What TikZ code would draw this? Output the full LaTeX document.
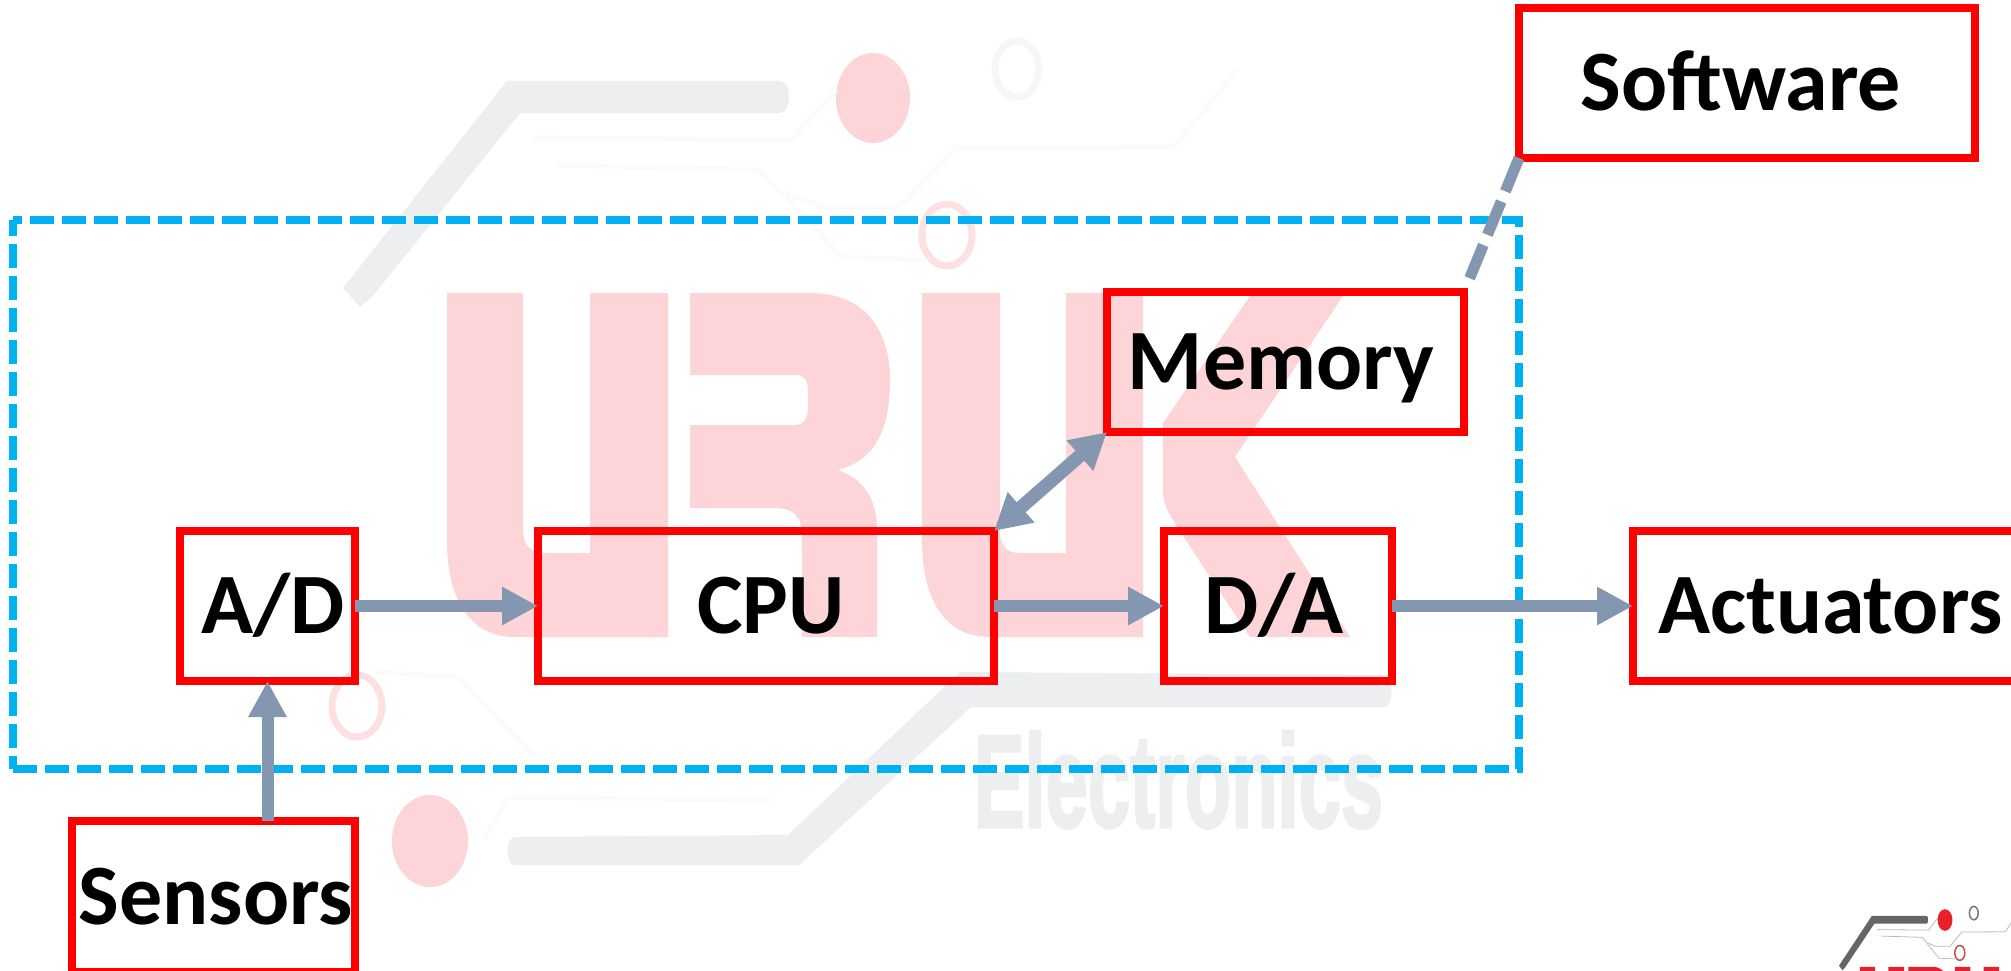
\documentclass[tikz,border=0pt]{standalone}
\usepackage{fontspec}
\usepackage{graphicx}
\usetikzlibrary{arrows.meta}
\setmainfont{Carlito}
\newfontfamily\wmfont[FakeBold=2.5]{Liberation Sans}
\definecolor{boxred}{HTML}{FF0000}
\definecolor{arrowblue}{HTML}{8497B0}
\definecolor{frameblue}{HTML}{00B0F0}
\definecolor{wmpink}{HTML}{FDD5D8}
\definecolor{wmgray}{HTML}{EDEEF0}
\definecolor{wmring}{HTML}{FDE0E2}
\definecolor{wmringgray}{HTML}{F6F6F7}
\definecolor{wmtrace}{HTML}{FBFBFB}
\definecolor{lgred}{HTML}{E8202A}
\definecolor{lggray}{HTML}{666666}
\definecolor{lgring}{HTML}{777777}
\definecolor{lgredring}{HTML}{C84A52}
\definecolor{lgtrace}{HTML}{B5BDBD}
\tikzset{
  blockbox/.style={draw=boxred,line width=8pt,inner sep=0pt,outer sep=0pt,
    font=\fontsize{86pt}{92pt}\selectfont\bfseries,text=black,
    text height=55pt,text depth=0pt},
  flow/.style={draw=arrowblue,line width=12pt,
    -{Triangle[length=36pt,width=36pt,fill=arrowblue]}},
  flowboth/.style={draw=arrowblue,line width=13.5pt,
    {Triangle[length=36pt,width=38pt,fill=arrowblue]}-{Triangle[length=36pt,width=38pt,fill=arrowblue]}},
  softlink/.style={draw=arrowblue,line width=11pt,
    dash pattern=on 36pt off 11pt on 36pt off 11pt on 36pt off 40pt},
  framedash/.style={draw=frameblue,line width=8pt,dash pattern=on 24pt off 8pt}
}
% the watermark mark: letter, bar, big dot, grey ring, red ring, trace colours; ring and trace widths
\newcommand{\urukmark}[8]{%
  \fill[#1] (447,293)--(523,293)--(523,530) .. controls (523,545) and (530,553) .. (545,553)--(590,553)--(590,293)--(668,293)--(668,637)--(515,637) .. controls (470,637) and (447,600) .. (447,540)--cycle;
  \fill[#1] (690,293)--(810,293) .. controls (865,293) and (890,330) .. (890,380) .. controls (890,430) and (875,460) .. (838,470) .. controls (865,480) and (877,500) .. (877,530)--(877,637)--(802,637)--(802,535) .. controls (802,518) and (795,508) .. (775,508)--(690,508)--(690,425)--(795,425) .. controls (805,425) and (808,418) .. (808,405)--(808,393) .. controls (808,380) and (805,375) .. (795,375)--(690,375)--cycle;
  \fill[#1] (922,293)--(1000,293)--(1000,530) .. controls (1000,545) and (1005,553) .. (1020,553)--(1066,553)--(1066,293)--(1143,293)--(1143,637)--(990,637) .. controls (945,637) and (922,600) .. (922,540)--cycle;
  \fill[#1] (1252,293)--(1345,293)--(1235,457)--(1350,637)--(1250,637)--(1177,527) .. controls (1168,512) and (1163,505) .. (1163,490)--(1163,423)--cycle;
  \fill[#2] (507,81)--(780,81) .. controls (792,81) and (792,113) .. (780,113)--(520,113)--(372,297)--(360,307)--(343,288)--cycle;
  \fill[#3] (873,98) ellipse [x radius=37pt,y radius=45pt];
  \draw[#4,line width=#7] (1017,69) ellipse [x radius=22pt,y radius=28pt];
  \draw[#5,line width=#7] (947,235) ellipse [x radius=25pt,y radius=31pt];
  \draw[#6,line width=#8] (533,138)--(791,140)--(836,90);
  \draw[#6,line width=#8] (555,165)--(759,170)--(842,257)--(925,260);
  \draw[#6,line width=#8] (785,193)--(823,207)--(899,207)--(957,148)--(1174,147)--(1237,70);
}
\begin{document}
\begin{tikzpicture}[x=1pt,y=-1pt]
\path[use as bounding box,clip] (0,0) rectangle (2011,971);
\fill[white] (0,0) rectangle (2011,971);
% large watermark
\urukmark{wmpink}{wmgray}{wmpink}{wmringgray}{wmring}{wmtrace}{7pt}{5pt}
\fill[wmgray] (960,672)--(1384,675) .. controls (1394,675) and (1394,707) .. (1384,707)--(971,707)--(799,865)--(515,865) .. controls (505,865) and (505,837) .. (515,837)--(788,835)--cycle;
\fill[wmpink] (430,841) ellipse [x radius=38pt,y radius=46pt];
\draw[wmring,line width=7pt] (357,706) ellipse [x radius=25pt,y radius=31pt];
\draw[wmtrace,line width=5pt] (373,672)--(458,677)--(535,757);
\draw[wmtrace,line width=5pt] (770,800)--(509,797)--(483,840);
\node[anchor=base,inner sep=0pt,text=wmgray,font=\wmfont\fontsize{132pt}{140pt}\selectfont\bfseries] (wmtext) at (1178.5,827) {\scalebox{.575}[1]{Electronics}};
% small logo in the corner
\begin{scope}[shift={(1770.4,896.5)},xscale=.2,yscale=.24]
\urukmark{lgred}{lggray}{lgred}{lgring}{lgredring}{lgtrace}{1.5pt}{.8pt}
\end{scope}
% dashed frame
\draw[framedash,dash phase=15pt] (13,220)--(1519,220)--(1519,769)--(13,769);
\draw[framedash,dash phase=11pt] (13,769)--(13,220);
% blocks
\node[blockbox,minimum width=456pt,minimum height=150pt] (soft) at (1747,83) {Software\kern12pt};
\node[blockbox,minimum width=357pt,minimum height=140pt] (mem) at (1285.5,362) {Memory\kern9pt};
\node[blockbox,minimum width=175pt,minimum height=150pt] (ad) at (267.5,606) {\kern12pt A/D};
\node[blockbox,minimum width=456pt,minimum height=150pt] (cpu) at (766,606) {\kern10pt CPU};
\node[blockbox,minimum width=228pt,minimum height=150pt] (da) at (1278,606) {D/A\kern8pt};
\node[blockbox,minimum width=387pt,minimum height=150pt] (act) at (1826.5,606) {\kern8pt Actuators};
\node[blockbox,minimum width=283pt,minimum height=151pt] (sens) at (213.5,896.5) {\kern5pt Sensors};
% connectors
\draw[flow] (ad.east)--(cpu.west);
\draw[flow] (cpu.east)--(da.west);
\draw[flow] (da.east)--(act.west);
\draw[flow] (ad.south |- sens.north)--(ad.south);
\draw[flowboth] (cpu.north east)--(mem.south west);
\draw[softlink] (soft.south west)--(mem.north east);
\end{tikzpicture}
\end{document}
